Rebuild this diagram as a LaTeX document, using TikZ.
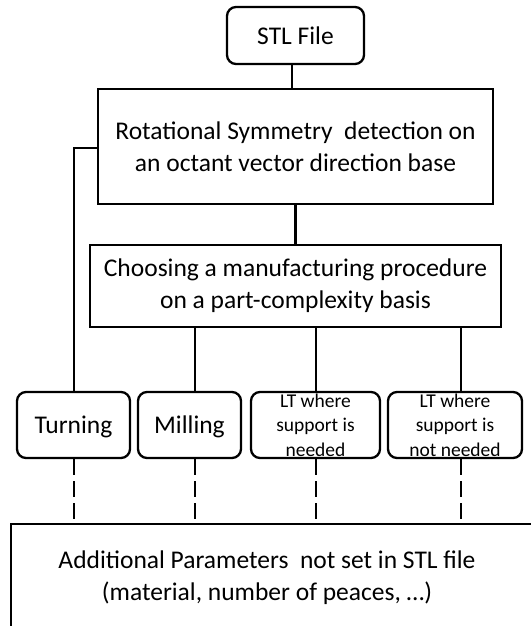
\documentclass[tikz,border=0pt]{standalone}
\usepackage{fontspec}
\setmainfont{Carlito}
\begin{document}
\begin{tikzpicture}[x=1pt,y=-1pt,
  box/.style={draw=black,line width=2.3pt,inner sep=0pt,align=center,
    font=\fontsize{25.5}{32}\selectfont},
  rbox/.style={box,rounded corners=9pt},
  small/.style={font=\fontsize{19.5}{24.5}\selectfont},
  conn/.style={line width=2.2pt},
  dconn/.style={line width=2.2pt,dash pattern=on 16pt off 6pt}]
\useasboundingbox (0,0) rectangle (530,626);
\node[rbox,minimum width=137pt,minimum height=57pt] (stl) at (295.5,35.5) {STL File};
\node[box,minimum width=395pt,minimum height=115pt] (rot) at (295.5,146.5)
  {Rotational Symmetry \ detection on\\an octant vector direction base};
\node[box,minimum width=411pt,minimum height=82pt] (choose) at (295.5,286)
  {Choosing a manufacturing procedure\\on a part-complexity basis};
\node[rbox,minimum width=113pt,minimum height=66pt,text depth=0pt] (turning) at (73.5,425) {Turning};
\node[rbox,minimum width=103pt,minimum height=66pt,text depth=0pt] (milling) at (189.5,425) {Milling};
\node[rbox,small,minimum width=129pt,minimum height=66pt] (lt1) at (315.5,425)
  {LT where\\support is\\needed};
\node[rbox,small,minimum width=134pt,minimum height=66pt] (lt2) at (455,425)
  {LT where\\support is\\not needed};
\node[box,minimum width=540pt,minimum height=120pt,anchor=north west] (params) at (10,523) {};
\node[align=center,inner sep=0pt,font=\fontsize{25.5}{32}\selectfont] (paramstxt) at (267,577.5)
  {Additional Parameters \ not set in STL file\\(material, number of peaces, \ldots)};
\coordinate (c0) at (292,0);
\coordinate (c1) at (74,0);
\coordinate (c2) at (195,0);
\coordinate (c3) at (316,0);
\coordinate (c4) at (461,0);
\draw[conn] (stl.south -| c0) -- (rot.north -| c0);
\draw[conn] (rot.south) -- (choose.north);
\draw[conn] ([yshift=-1.5pt]rot.west) -| (turning.north -| c1);
\draw[conn] (choose.south -| c2) -- (milling.north -| c2);
\draw[conn] (choose.south -| c3) -- (lt1.north -| c3);
\draw[conn] (choose.south -| c4) -- (lt2.north -| c4);
\draw[dconn] (turning.south -| c1) -- (params.north -| c1);
\draw[dconn] (milling.south -| c2) -- (params.north -| c2);
\draw[dconn] (lt1.south -| c3) -- (params.north -| c3);
\draw[dconn] (lt2.south -| c4) -- (params.north -| c4);
\end{tikzpicture}
\end{document}
